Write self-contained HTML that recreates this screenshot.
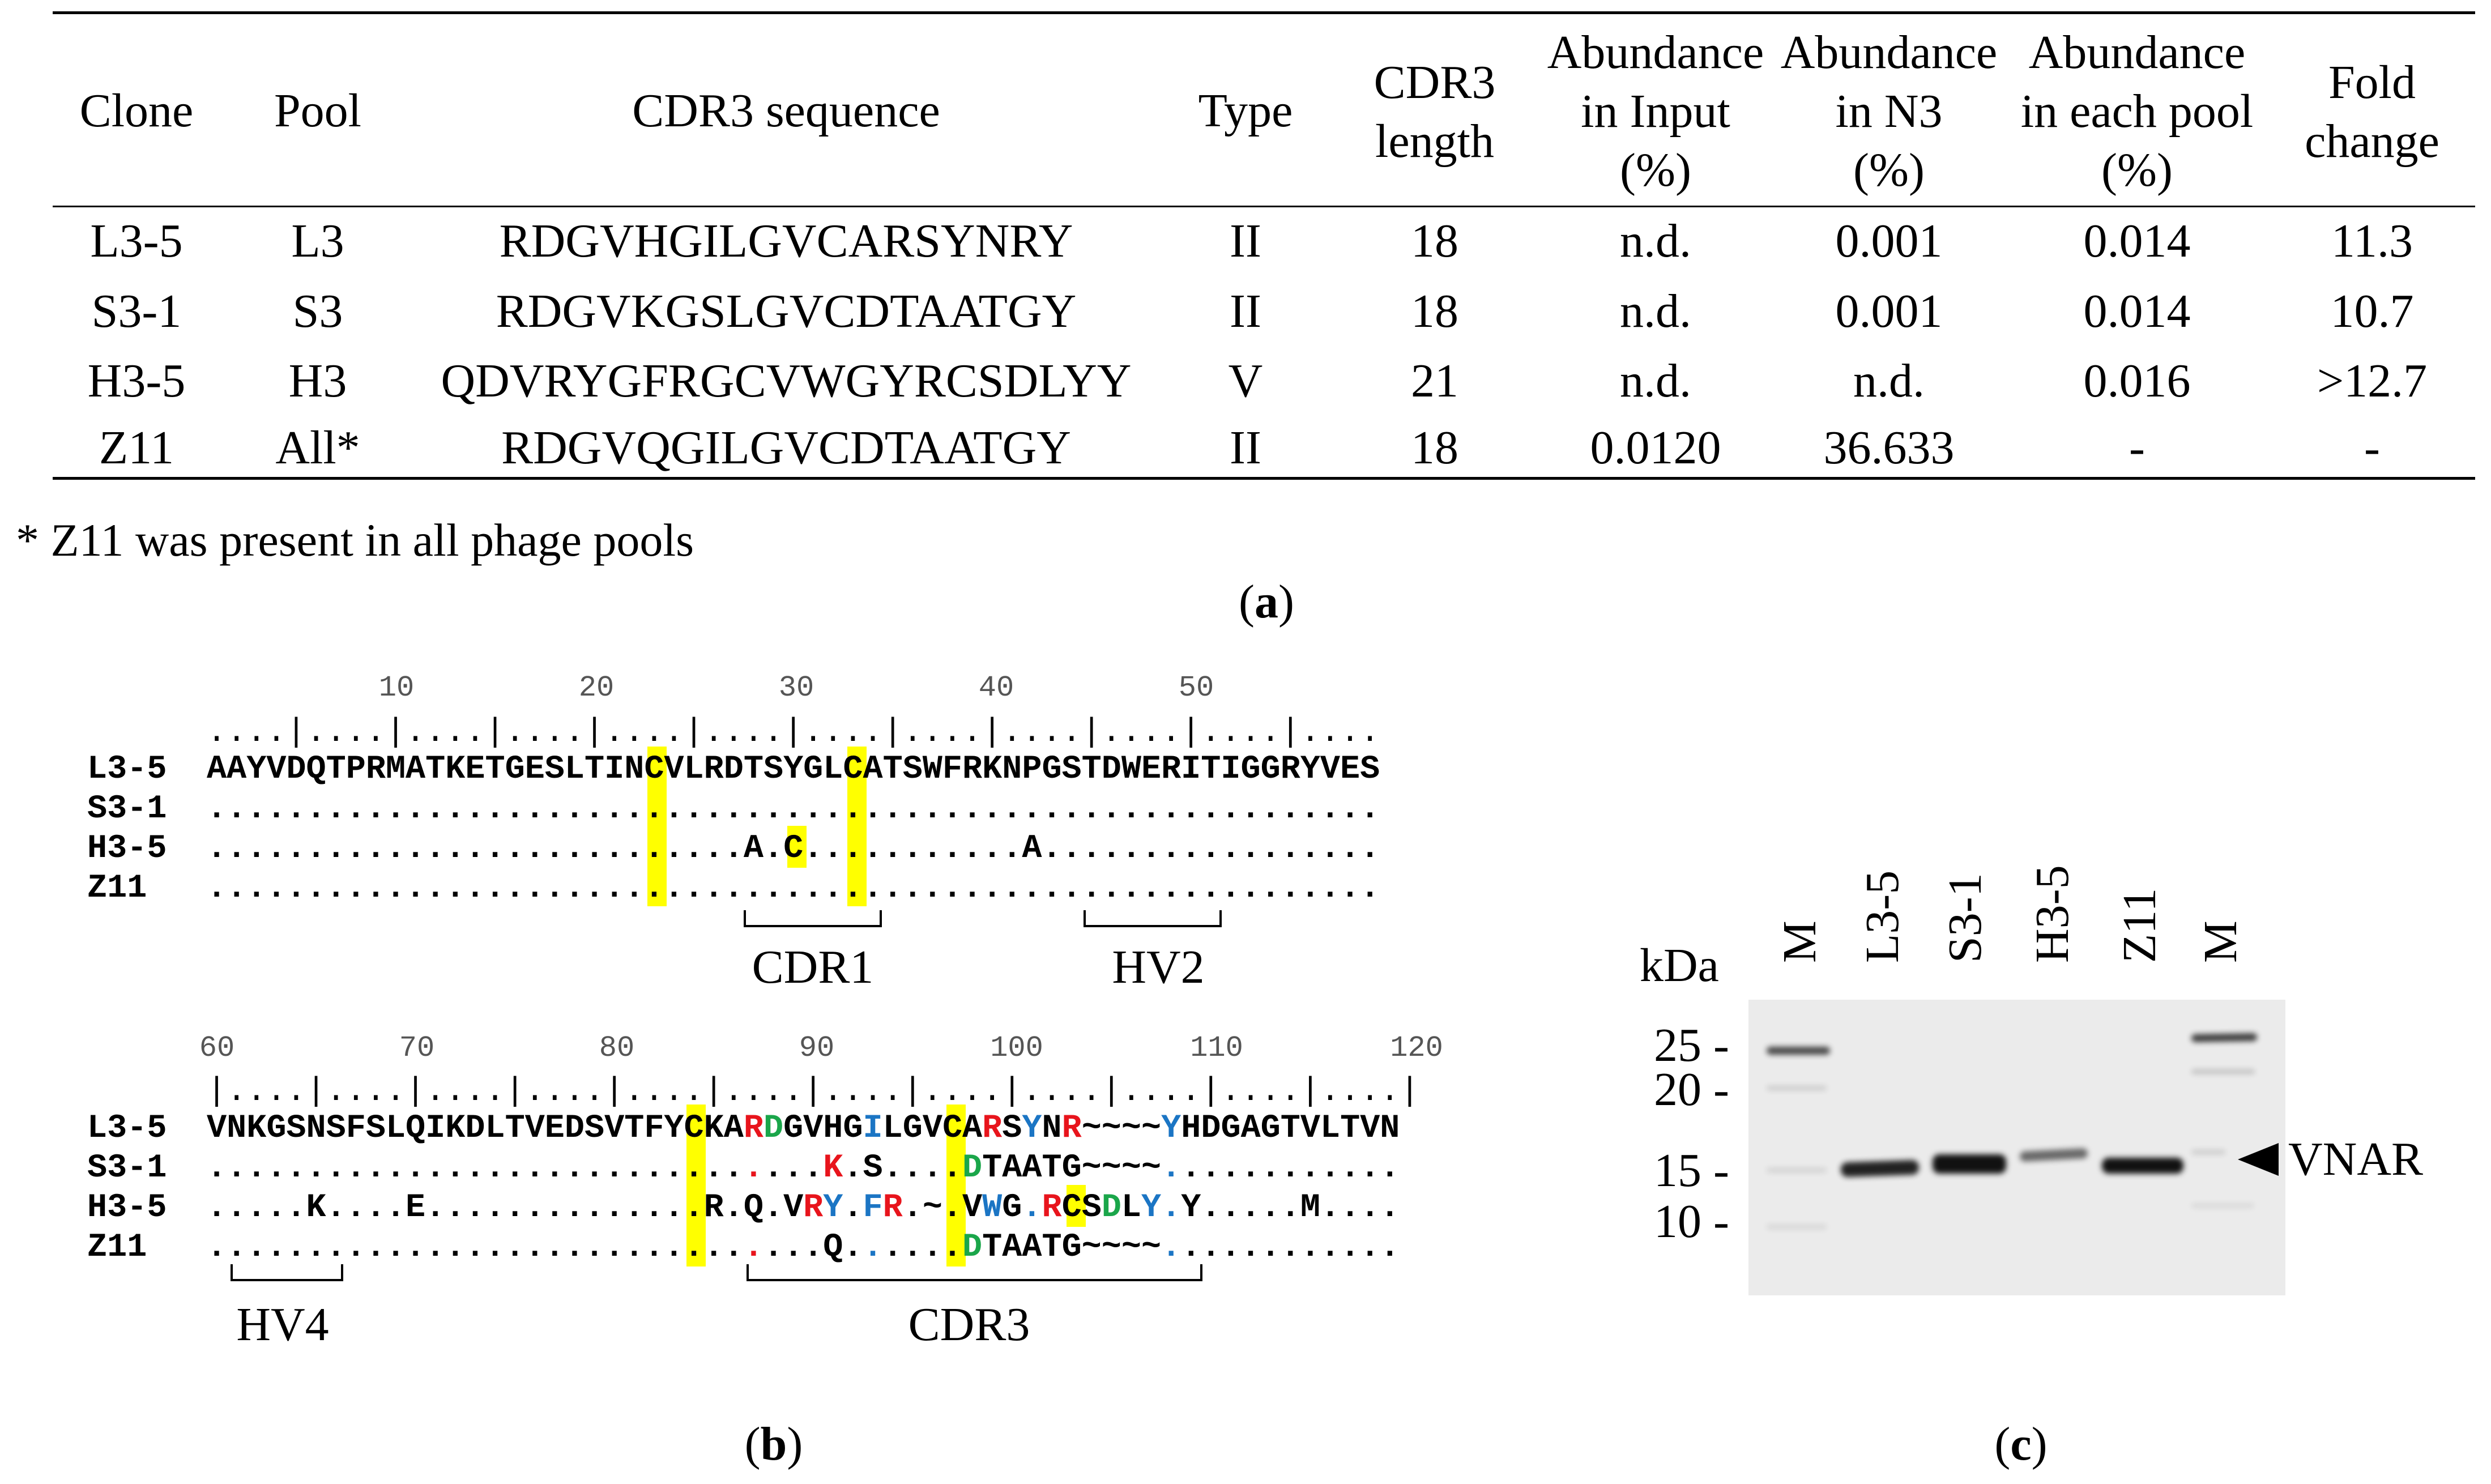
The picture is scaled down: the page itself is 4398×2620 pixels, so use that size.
<!DOCTYPE html>
<html><head><meta charset="utf-8"><style>
body{margin:0;background:#fff;}
#p{position:relative;width:4398px;height:2620px;overflow:hidden;background:#fff;font-family:"Liberation Serif",serif;color:#000;}
.a{position:absolute;white-space:nowrap;}
.c{transform:translateX(-50%);text-align:center;}
.t{font-size:84px;line-height:104px;}
.ln{position:absolute;background:#000;}
.m{font-family:"Liberation Mono",monospace;font-weight:bold;font-size:58.5px;line-height:60px;}
.n{font-family:"Liberation Mono",monospace;font-size:52px;line-height:60px;color:#555;}
.r{color:#e8141c}.g{color:#1aa64a}.b{color:#1b75c4}
.y{position:absolute;background:#ffff00;}
.br{position:absolute;border:4px solid #000;border-top:none;height:26px;}
.band{position:absolute;background:#111;border-radius:12px;filter:blur(5px);}
.rot{position:absolute;transform:rotate(-90deg);transform-origin:0 0;font-size:84px;line-height:84px;white-space:nowrap;}
</style></head><body><div id="p">
<div class="ln" style="left:93px;top:20px;width:4277px;height:5px"></div>
<div class="ln" style="left:93px;top:363px;width:4277px;height:3px"></div>
<div class="ln" style="left:93px;top:842px;width:4277px;height:5px"></div>
<div class="a c t" style="left:241px;top:144px">Clone</div>
<div class="a c t" style="left:561px;top:144px">Pool</div>
<div class="a c t" style="left:1388px;top:144px">CDR3 sequence</div>
<div class="a c t" style="left:2199px;top:144px">Type</div>
<div class="a c t" style="left:2533px;top:94px">CDR3<br>length</div>
<div class="a c t" style="left:2923px;top:41px">Abundance<br>in Input<br>(%)</div>
<div class="a c t" style="left:3335px;top:41px">Abundance<br>in N3<br>(%)</div>
<div class="a c t" style="left:3773px;top:41px">Abundance<br>in each pool<br>(%)</div>
<div class="a c t" style="left:4188px;top:94px">Fold<br>change</div>
<div class="a c t" style="left:241px;top:374px">L3-5</div><div class="a c t" style="left:561px;top:374px">L3</div><div class="a c t" style="left:1388px;top:374px">RDGVHGILGVCARSYNRY</div><div class="a c t" style="left:2199px;top:374px">II</div><div class="a c t" style="left:2533px;top:374px">18</div><div class="a c t" style="left:2923px;top:374px">n.d.</div><div class="a c t" style="left:3335px;top:374px">0.001</div><div class="a c t" style="left:3773px;top:374px">0.014</div><div class="a c t" style="left:4188px;top:374px">11.3</div>
<div class="a c t" style="left:241px;top:498px">S3-1</div><div class="a c t" style="left:561px;top:498px">S3</div><div class="a c t" style="left:1388px;top:498px">RDGVKGSLGVCDTAATGY</div><div class="a c t" style="left:2199px;top:498px">II</div><div class="a c t" style="left:2533px;top:498px">18</div><div class="a c t" style="left:2923px;top:498px">n.d.</div><div class="a c t" style="left:3335px;top:498px">0.001</div><div class="a c t" style="left:3773px;top:498px">0.014</div><div class="a c t" style="left:4188px;top:498px">10.7</div>
<div class="a c t" style="left:241px;top:621px">H3-5</div><div class="a c t" style="left:561px;top:621px">H3</div><div class="a c t" style="left:1388px;top:621px">QDVRYGFRGCVWGYRCSDLYY</div><div class="a c t" style="left:2199px;top:621px">V</div><div class="a c t" style="left:2533px;top:621px">21</div><div class="a c t" style="left:2923px;top:621px">n.d.</div><div class="a c t" style="left:3335px;top:621px">n.d.</div><div class="a c t" style="left:3773px;top:621px">0.016</div><div class="a c t" style="left:4188px;top:621px">&gt;12.7</div>
<div class="a c t" style="left:241px;top:739px">Z11</div><div class="a c t" style="left:561px;top:739px">All*</div><div class="a c t" style="left:1388px;top:739px">RDGVQGILGVCDTAATGY</div><div class="a c t" style="left:2199px;top:739px">II</div><div class="a c t" style="left:2533px;top:739px">18</div><div class="a c t" style="left:2923px;top:739px">0.0120</div><div class="a c t" style="left:3335px;top:739px">36.633</div><div class="a c t" style="left:3773px;top:739px">-</div><div class="a c t" style="left:4188px;top:739px">-</div>
<div class="a t" style="left:28px;top:902px;font-size:82px">* Z11 was present in all phage pools</div>
<div class="a c t" style="left:2236px;top:1011px">(<b>a</b>)</div>

<div class="y" style="left:1143px;top:1318px;width:34px;height:282px"></div>
<div class="y" style="left:1496px;top:1318px;width:34px;height:282px"></div>
<div class="y" style="left:1390px;top:1458px;width:34px;height:74px"></div>
<div class="a n c" style="left:700px;top:1185px">10</div>
<div class="a n c" style="left:1053px;top:1185px">20</div>
<div class="a n c" style="left:1406px;top:1185px">30</div>
<div class="a n c" style="left:1759px;top:1185px">40</div>
<div class="a n c" style="left:2112px;top:1185px">50</div>
<div class="a m" style="left:365px;top:1263px;font-weight:normal;color:#000">....|....|....|....|....|....|....|....|....|....|....|....</div>
<div class="a m" style="left:154px;top:1328px">L3-5</div><div class="a m" style="left:365px;top:1328px">AAYVDQTPRMATKETGESLTINCVLRDTSYGLCATSWFRKNPGSTDWERITIGGRYVES</div>
<div class="a m" style="left:154px;top:1398px">S3-1</div><div class="a m" style="left:365px;top:1398px">...........................................................</div>
<div class="a m" style="left:154px;top:1468px">H3-5</div><div class="a m" style="left:365px;top:1468px">...........................A.C...........A.................</div>
<div class="a m" style="left:154px;top:1538px">Z11</div><div class="a m" style="left:365px;top:1538px">...........................................................</div>
<div class="br" style="left:1313px;top:1607px;width:236px"></div>
<div class="br" style="left:1913px;top:1607px;width:236px"></div>
<div class="a c t" style="left:1435px;top:1656px">CDR1</div>
<div class="a c t" style="left:2045px;top:1656px">HV2</div>

<div class="y" style="left:1212px;top:1950px;width:34px;height:286px"></div>
<div class="y" style="left:1671px;top:1950px;width:34px;height:286px"></div>
<div class="y" style="left:1883px;top:2092px;width:34px;height:74px"></div>
<div class="a n c" style="left:383px;top:1821px">60</div>
<div class="a n c" style="left:736px;top:1821px">70</div>
<div class="a n c" style="left:1089px;top:1821px">80</div>
<div class="a n c" style="left:1442px;top:1821px">90</div>
<div class="a n c" style="left:1795px;top:1821px">100</div>
<div class="a n c" style="left:2148px;top:1821px">110</div>
<div class="a n c" style="left:2501px;top:1821px">120</div>
<div class="a m" style="left:365px;top:1897px;font-weight:normal;color:#000">|....|....|....|....|....|....|....|....|....|....|....|....|</div>
<div class="a m" style="left:154px;top:1962px">L3-5</div><div class="a m" style="left:365px;top:1962px">VNKGSNSFSLQIKDLTVEDSVTFYCKA<span class="r">R</span><span class="g">D</span>GVHG<span class="b">I</span>LGVCA<span class="r">R</span>S<span class="b">Y</span>N<span class="r">R</span>~~~~<span class="b">Y</span>HDGAGTVLTVN</div>
<div class="a m" style="left:154px;top:2032px">S3-1</div><div class="a m" style="left:365px;top:2032px">...........................<span class="r">.</span>...<span class="r">K</span>.S....<span class="g">D</span>TAATG~~~~<span class="b">.</span>...........</div>
<div class="a m" style="left:154px;top:2102px">H3-5</div><div class="a m" style="left:365px;top:2102px">.....K....E..............R.Q.V<span class="r">R</span><span class="b">Y</span>.<span class="b">F</span><span class="r">R</span>.~.V<span class="b">W</span>G<span class="b">.</span><span class="r">R</span>CS<span class="g">D</span>L<span class="b">Y</span><span class="b">.</span>Y.....M....</div>
<div class="a m" style="left:154px;top:2172px">Z11</div><div class="a m" style="left:365px;top:2172px">...........................<span class="r">.</span>...Q.<span class="b">.</span>....<span class="g">D</span>TAATG~~~~<span class="b">.</span>...........</div>
<div class="br" style="left:407px;top:2232px;width:191px"></div>
<div class="br" style="left:1318px;top:2232px;width:797px"></div>
<div class="a c t" style="left:499px;top:2287px">HV4</div>
<div class="a c t" style="left:1711px;top:2287px">CDR3</div>
<div class="a c t" style="left:1366px;top:2498px">(<b>b</b>)</div>

<div class="a" style="left:3087px;top:1765px;width:948px;height:522px;background:#ebebeb"></div>
<div class="band" style="left:3119px;top:1848px;width:112px;height:14px;opacity:.75"></div>
<div class="band" style="left:3119px;top:1917px;width:106px;height:8px;opacity:.15"></div>
<div class="band" style="left:3119px;top:2062px;width:106px;height:8px;opacity:.12"></div>
<div class="band" style="left:3119px;top:2162px;width:106px;height:8px;opacity:.1"></div>
<div class="band" style="left:3250px;top:2050px;width:138px;height:26px;opacity:.92;transform:rotate(-2deg)"></div>
<div class="band" style="left:3412px;top:2038px;width:130px;height:34px;"></div>
<div class="band" style="left:3566px;top:2030px;width:120px;height:18px;opacity:.6;transform:rotate(-3deg)"></div>
<div class="band" style="left:3711px;top:2044px;width:144px;height:28px;"></div>
<div class="band" style="left:3869px;top:1825px;width:116px;height:14px;opacity:.8;transform:rotate(-1deg)"></div>
<div class="band" style="left:3869px;top:1888px;width:112px;height:8px;opacity:.2"></div>
<div class="band" style="left:3869px;top:2030px;width:60px;height:8px;opacity:.15"></div>
<div class="band" style="left:3869px;top:2125px;width:110px;height:7px;opacity:.1"></div>
<div class="a t" style="left:2895px;top:1653px">kDa</div>
<div class="a t" style="left:2920px;top:1794px">25 -</div>
<div class="a t" style="left:2920px;top:1872px">20 -</div>
<div class="a t" style="left:2920px;top:2015px">15 -</div>
<div class="a t" style="left:2920px;top:2105px">10 -</div>
<div class="rot" style="left:3136px;top:1700px">M</div>
<div class="rot" style="left:3282px;top:1700px">L3-5</div>
<div class="rot" style="left:3428px;top:1700px">S3-1</div>
<div class="rot" style="left:3582px;top:1700px">H3-5</div>
<div class="rot" style="left:3736px;top:1700px">Z11</div>
<div class="rot" style="left:3879px;top:1700px">M</div>
<svg class="a" style="left:3945px;top:2010px" width="85" height="72"><polygon points="6,37 78,8 78,66" fill="#000"/></svg>
<div class="a t" style="left:4040px;top:1995px">VNAR</div>
<div class="a c t" style="left:3568px;top:2498px">(<b>c</b>)</div>
</div></body></html>
